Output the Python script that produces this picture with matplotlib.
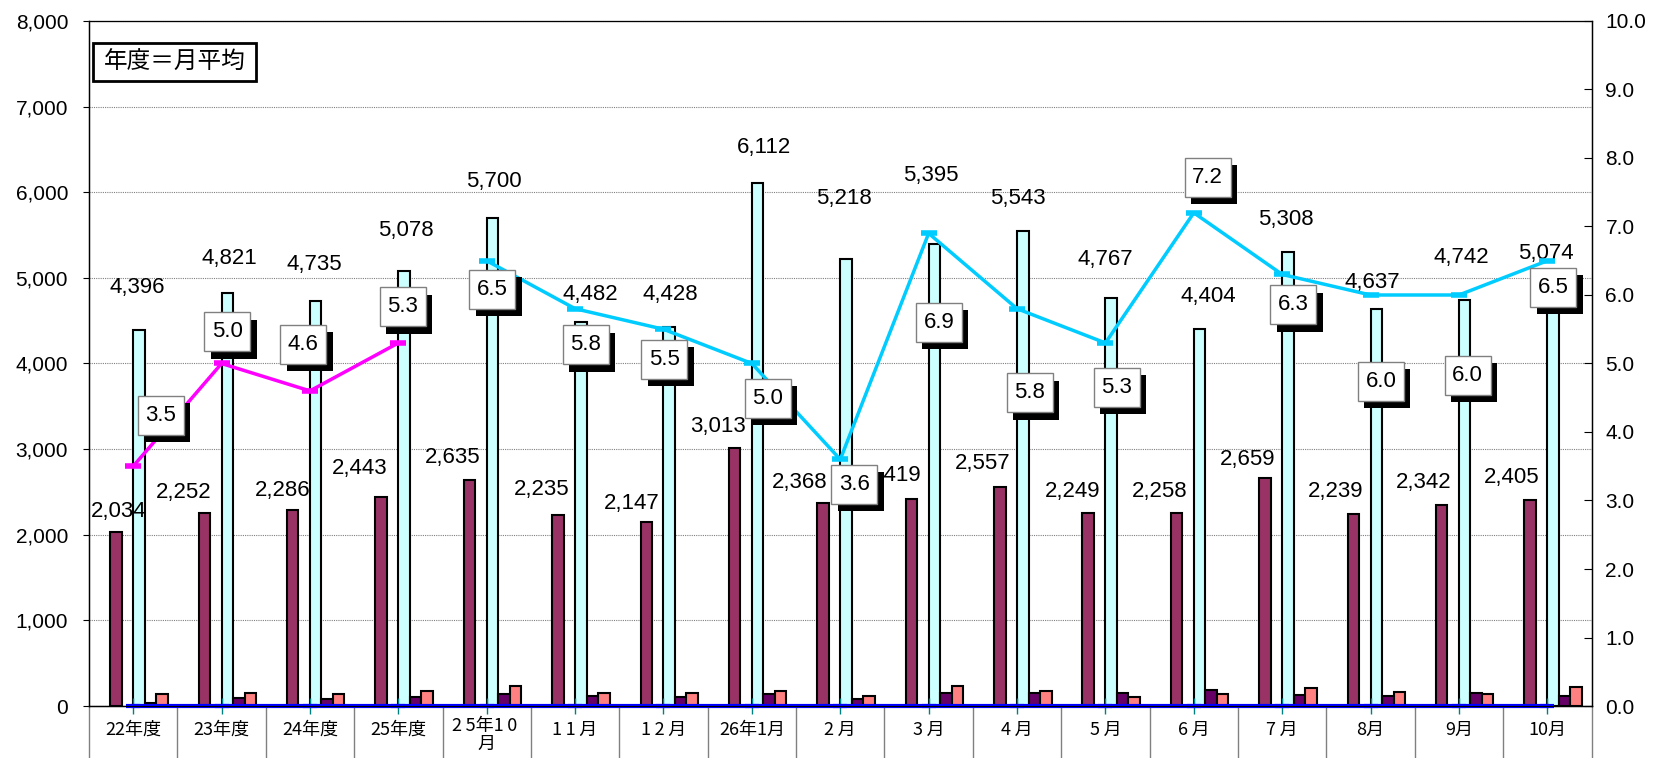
import numpy as np
import matplotlib
matplotlib.use("Agg")
import matplotlib.pyplot as plt
from matplotlib.patches import Rectangle
from matplotlib.ticker import FuncFormatter
import matplotlib.transforms as mtransforms

plt.rcParams['font.family'] = ['Liberation Sans', 'Noto Sans CJK JP', 'DejaVu Sans']

# ---- data ----
ts = '\u2009'
categories = ['22年度', '23年度', '24年度', '25年度', '2' + ts + '5年1' + ts + '0' + ts + '\n月',
              '1' + ts + '1' + ts + '月', '1' + ts + '2' + ts + '月', '26年1月', '2' + ts + '月',
              '3' + ts + '月', '4' + ts + '月', '5' + ts + '月', '6' + ts + '月', '7' + ts + '月',
              '8月', '9月', '10月']
series_a = [2034, 2252, 2286, 2443, 2635, 2235, 2147, 3013, 2368, 2419, 2557,
            2249, 2258, 2659, 2239, 2342, 2405]
series_b = [4396, 4821, 4735, 5078, 5700, 4482, 4428, 6112, 5218, 5395, 5543,
            4767, 4404, 5308, 4637, 4742, 5074]
series_c = [30, 93, 77, 108, 143, 116, 100, 135, 81, 154, 147, 154, 189, 127, 120, 154, 116]
series_d = [135, 154, 143, 174, 232, 154, 154, 178, 116, 228, 178, 100, 135, 212, 162, 135, 224]
series_zero = [0] * 17
rate_year = [3.5, 5.0, 4.6, 5.3]
rate_month = [6.5, 5.8, 5.5, 5.0, 3.6, 6.9, 5.8, 5.3, 7.2, 6.3, 6.0, 6.0, 6.5]

# label positions (hand placed in the original)
lab_b_x = [0.051, 1.087, 2.044, 3.086, 4.081, 5.169, 6.080, 7.137, 8.041, 9.022,
           10.014, 10.995, 12.164, 13.041, 14.022, 15.026, 15.983]
lab_b_y = [4885, 5229, 5162, 5559, 6131, 4808, 4808, 6520, 5926, 6198, 5926,
           5210, 4778, 5679, 4951, 5235, 5284]
lab_a_x = [-0.168, 0.569, 1.689, 2.562, 3.620, 4.622, 5.646, 6.615, 7.538, 8.603,
           9.608, 10.624, 11.617, 12.610, 13.603, 14.596, 15.600]
lab_a_y = [2269, 2491, 2514, 2776, 2900, 2531, 2367, 3270, 2613, 2691, 2827,
           2506, 2506, 2877, 2506, 2605, 2667]
lab_r_x = [0.312, 1.065, 1.926, 3.052, 4.064, 5.118, 6.007, 7.178, 8.160, 9.117,
           10.146, 11.127, 12.156, 13.124, 14.117, 15.098, 16.067]
lab_r_y = [4.244, 5.464, 5.280, 5.829, 6.083, 5.274, 5.061, 4.492, 3.24, 5.60, 4.57,
           4.65, 7.72, 5.86, 4.74, 4.83, 6.11]

x = np.arange(len(categories))
w = 0.13

fig = plt.figure(figsize=(16.57, 7.58), dpi=100)
ax = fig.add_axes([0.0537, 0.0686, 0.9068, 0.9037])

ax.bar(x - 1.5 * w, series_a, w, color='#993366', edgecolor='black', linewidth=1.5, zorder=3)
ax.bar(x + 0.5 * w, series_b, w, color='#CCFFFF', edgecolor='black', linewidth=1.5, zorder=3)
ax.bar(x + 1.5 * w, series_c, w, color='#660066', edgecolor='black', linewidth=1.5, zorder=3)
ax.bar(x + 2.5 * w, series_d, w, color='#FF8080', edgecolor='black', linewidth=1.5, zorder=3)

ax.set_xlim(-0.5, len(categories) - 0.5)
ax.set_ylim(0, 8000)
ax.set_yticks(np.arange(0, 8001, 1000))
ax.yaxis.set_major_formatter(FuncFormatter(lambda v, p: f'{int(v):,}'))
ax.grid(axis='y', linestyle=(0, (1, 1)), color='#808080', linewidth=0.8, zorder=0)
ax.set_xticks([])
ax.tick_params(axis='y', labelsize=15, length=4, direction='out', pad=11)
for s in ['top', 'bottom', 'left', 'right']:
    ax.spines[s].set_linewidth(1.0)
ax.spines['top'].set_color('#808080')

# zero line series
ax.plot(x, series_zero, color='#0000FF', linewidth=3, marker='_', ms=10, mew=3,
        zorder=5, clip_on=False)
ax.plot(x, series_zero, linestyle='none', marker='|', color='#008080', ms=12, mew=1,
        zorder=4, clip_on=False)

# value labels
for i in range(len(categories)):
    ax.text(lab_a_x[i], lab_a_y[i], f'{series_a[i]:,}', ha='center', va='center',
            fontsize=16, zorder=6)
    ax.text(lab_b_x[i], lab_b_y[i], f'{series_b[i]:,}', ha='center', va='center',
            fontsize=16, zorder=6)

# secondary axis
ax2 = ax.twinx()
ax2.set_ylim(0, 10)
ax2.set_yticks(np.arange(0, 10.01, 1.0))
ax2.yaxis.set_major_formatter(FuncFormatter(lambda v, p: f'{v:.1f}'))
ax2.tick_params(axis='y', labelsize=15, length=6, direction='in', pad=10)
ax2.plot(x[:4], rate_year, color='#FF00FF', linewidth=2.5, marker='_', ms=11, mew=4,
         zorder=5)
ax2.plot(x[4:], rate_month, color='#00CCFF', linewidth=2.5, marker='_', ms=11, mew=4,
         zorder=5)

# rate boxes with drop shadow (size in inches around the data point)
rates = rate_year + rate_month
bw, bh, shx, shy = 0.46, 0.39, 0.065, 0.075
for i in range(len(rates)):
    off = mtransforms.ScaledTranslation(lab_r_x[i], lab_r_y[i], ax2.transData)
    tr = fig.dpi_scale_trans + off
    ax2.add_patch(Rectangle((-bw / 2 + shx, -bh / 2 - shy), bw, bh, transform=tr,
                            facecolor='black', edgecolor='none', zorder=7, clip_on=False))
    ax2.add_patch(Rectangle((-bw / 2, -bh / 2), bw, bh, transform=tr,
                            facecolor='white', edgecolor='#808080', linewidth=1.0,
                            zorder=8, clip_on=False))
    ax2.text(lab_r_x[i], lab_r_y[i], f'{rates[i]:.1f}', ha='center', va='center',
             fontsize=16, zorder=9)

# note box
ax2.add_patch(Rectangle((0.0027, 0.912), 0.1083, 0.056, transform=ax2.transAxes,
                        facecolor='white', edgecolor='black', linewidth=2.0, zorder=8))
ax2.text(0.0568, 0.939, '年度＝月平均', transform=ax2.transAxes, fontsize=17,
         ha='center', va='center', family=['Noto Sans CJK JP'], zorder=9)

# category table below the axis
trans = mtransforms.blended_transform_factory(ax.transData, ax.transAxes)
for b in np.arange(-0.5, len(categories), 1.0):
    ax.plot([b, b], [0, -0.077], transform=trans, color='#808080', linewidth=1.0,
            clip_on=False)
for i, c in enumerate(categories):
    if '\n' in c:
        ax.text(i, -0.042, c, transform=trans, ha='center', va='center', fontsize=13,
                family=['Noto Sans CJK JP', 'DejaVu Sans'], linespacing=1.0)
    else:
        ax.text(i, -0.035, c, transform=trans, ha='center', va='center', fontsize=13,
                family=['Noto Sans CJK JP', 'DejaVu Sans'])

fig.savefig('out.png', dpi=100)
